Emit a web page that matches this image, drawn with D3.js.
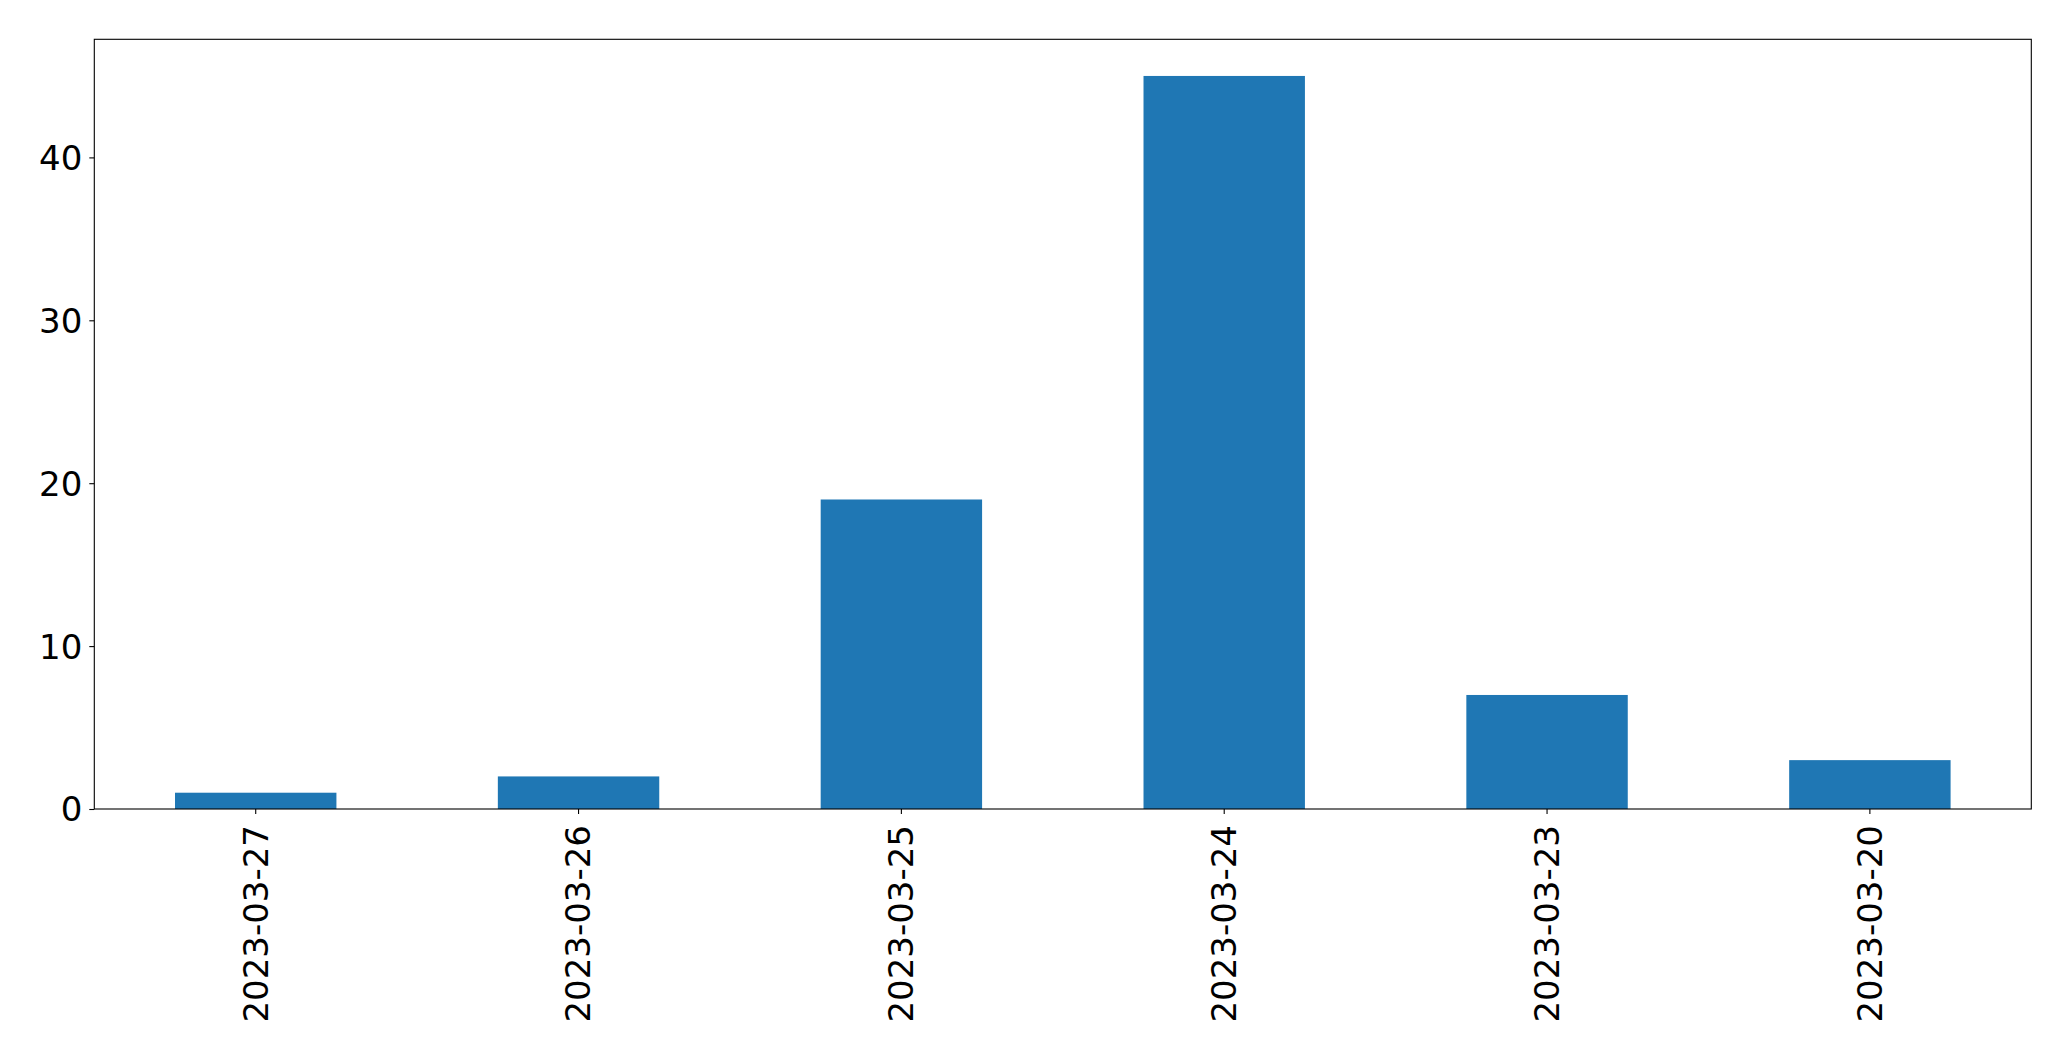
<!DOCTYPE html>
<html>
<head>
<meta charset="utf-8">
<script src="https://cdn.jsdelivr.net/npm/d3@7"></script>
<style>
  html, body { margin: 0; padding: 0; background: #fff; }
  svg { display: block; }
  text { font-family: "DejaVu Sans", sans-serif; fill: #000; }
</style>
</head>
<body>
<script>
const categories = ["2023-03-27", "2023-03-26", "2023-03-25", "2023-03-24", "2023-03-23", "2023-03-20"];
const values = [1, 2, 19, 45, 7, 3];
const yTicks = [0, 10, 20, 30, 40];

const W = 2071, H = 1061;
const margin = { left: 94.3, top: 39.3, right: W - 2031.3, bottom: H - 809 };
const iw = W - margin.left - margin.right;
const ih = H - margin.top - margin.bottom;

const svg = d3.select("body").append("svg").attr("width", W).attr("height", H);
const g = svg.append("g").attr("transform", `translate(${margin.left},${margin.top})`);

const x = d3.scaleBand().domain(categories).range([0, iw]).paddingInner(0.5).paddingOuter(0.25);
const y = d3.scaleLinear().domain([0, d3.max(values) * 1.05]).range([ih, 0]);

g.selectAll("rect.bar").data(values).join("rect")
  .attr("class", "bar")
  .attr("x", (d, i) => x(categories[i]))
  .attr("width", x.bandwidth())
  .attr("y", d => y(d))
  .attr("height", d => y(0) - y(d))
  .attr("fill", "#1f77b4");

// y axis
const yAxis = g.append("g").call(d3.axisLeft(y).tickValues(yTicks).tickSize(5).tickPadding(7).tickFormat(d3.format("d")));
yAxis.select(".domain").remove();
yAxis.selectAll("line").attr("stroke", "#000").attr("stroke-width", 1.1);
yAxis.selectAll("text").style("font-size", "34px").attr("dy", "0.35em");

// x axis
const xAxis = g.append("g").attr("transform", `translate(0,${ih})`).call(d3.axisBottom(x).tickSize(5).tickPadding(0));
xAxis.select(".domain").remove();
xAxis.selectAll("line").attr("stroke", "#000").attr("stroke-width", 1.1);
xAxis.selectAll("text")
  .style("font-size", "34px")
  .attr("text-anchor", "end")
  .attr("transform", "translate(0,16) rotate(-90)")
  .attr("x", 0).attr("y", 0).attr("dy", "0.35em");

// frame
g.append("rect").attr("x", 0).attr("y", 0).attr("width", iw).attr("height", ih)
  .attr("fill", "none").attr("stroke", "#000").attr("stroke-width", 1.1);
</script>
</body>
</html>
